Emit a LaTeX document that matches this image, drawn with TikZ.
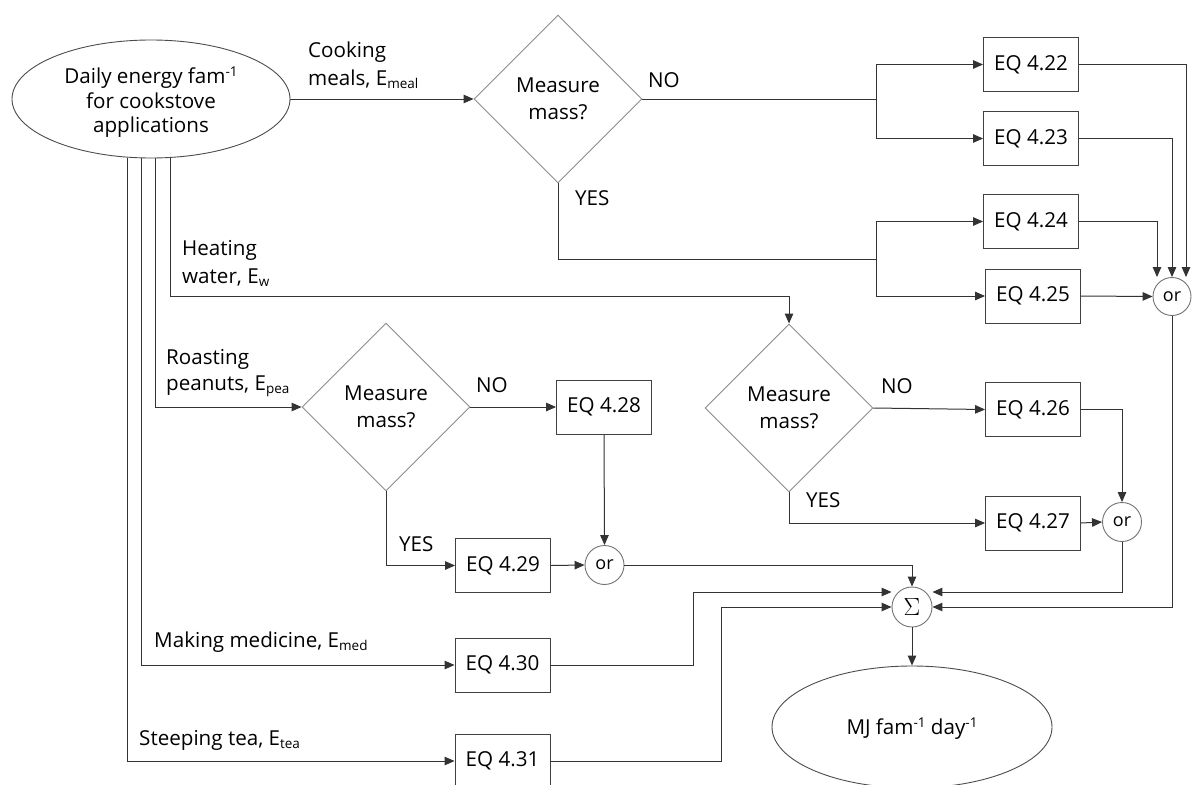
\documentclass[tikz,border=0pt]{standalone}
\usepackage{fontspec}
\setmainfont{Open Sans}
\usetikzlibrary{shapes.geometric,arrows.meta,calc}
\newcommand{\lowr}[1]{\raisebox{-3pt}{\fontsize{13.5}{13.5}\selectfont #1}}
\newcommand{\upr}[1]{\raisebox{7pt}{\fontsize{13.5}{13.5}\selectfont #1}}
\begin{document}
\begin{tikzpicture}[x=1pt,y=-1pt,
  every node/.style={font=\fontsize{20.6}{26}\selectfont},
  eqbox/.style={draw=black!75,line width=0.9pt,minimum width=95pt,minimum height=54pt,inner sep=0pt},
  decision/.style={diamond,draw=black!45,line width=0.9pt,minimum width=168pt,minimum height=168pt,inner sep=0pt,align=center,font=\fontsize{20.6}{27}\selectfont},
  orc/.style={circle,draw=black!55,line width=0.9pt,minimum size=38pt,inner sep=0pt,font=\fontsize{18}{20}\selectfont},
  ell/.style={ellipse,draw=black!70,line width=0.9pt,inner sep=0pt,align=center},
  lab/.style={anchor=base west,inner sep=0pt},
  conn/.style={draw=black!80,line width=1pt},
  arr/.style={conn,-{Triangle[length=10pt,width=8.5pt]}}]
\useasboundingbox (0,0) rectangle (1193,784);
\fill[white] (0,0) rectangle (1193,784);
% nodes
\node[ell,minimum width=278pt,minimum height=118pt] (start) at (151,99) {};
\node[align=center,inner sep=0pt,font=\fontsize{20.6}{24.5}\selectfont] (starttxt) at (151,102.5) {Daily energy fam\upr{-1}\\for cookstove\\applications};
\node[decision] (d1) at (558,99) {Measure\\mass?};
\node[eqbox] (eq22) at (1031,64.5) {EQ 4.22};
\node[eqbox] (eq23) at (1031,138.5) {EQ 4.23};
\node[eqbox] (eq24) at (1031,221.5) {EQ 4.24};
\node[eqbox] (eq25) at (1033,296) {EQ 4.25};
\node[orc] (or1) at (1172,296.5) {or};
\node[decision] (d2) at (789,408) {Measure\\mass?};
\node[eqbox] (eq26) at (1033,409.5) {EQ 4.26};
\node[eqbox] (eq27) at (1033,523) {EQ 4.27};
\node[orc,minimum size=39pt] (or3) at (1122,522) {or};
\node[decision] (d3) at (386,407) {Measure\\mass?};
\node[eqbox] (eq28) at (604,407) {EQ 4.28};
\node[eqbox] (eq29) at (503,565.5) {EQ 4.29};
\node[orc,minimum size=39pt] (or2) at (604.5,565) {or};
\node[eqbox] (eq30) at (502.5,665) {EQ 4.30};
\node[eqbox] (eq31) at (502.5,761) {EQ 4.31};
\node[orc,minimum size=40pt,font=\fontsize{25}{25}\selectfont] (sigma) at (912,607) {$\Sigma$};
\node[ell,minimum width=280pt,minimum height=122pt] (mj) at (912,727) {};
\node[inner sep=0pt] (mjtxt) at (912,729) {MJ fam\upr{-1} day\upr{-1}};
% labels
\node[lab] (l1a) at (308,58) {Cooking};
\node[lab] (l1b) at (308,85) {meals, E\lowr{meal}};
\node[lab] (l2a) at (182,255) {Heating};
\node[lab] (l2b) at (182,283) {water, E\lowr{w}};
\node[lab] (l3a) at (166,364) {Roasting};
\node[lab] (l3b) at (166,390) {peanuts, E\lowr{pea}};
\node[lab] (l4) at (154,647) {Making medicine, E\lowr{med}};
\node[lab] (l5) at (139,745) {Steeping tea, E\lowr{tea}};
\node[lab] (no1) at (648,87) {NO};
\node[lab] (yes1) at (575,205) {YES};
\node[lab] (no3) at (476,392) {NO};
\node[lab] (yes3) at (399,551) {YES};
\node[lab] (no2) at (881,393) {NO};
\node[lab] (yes2) at (806,507) {YES};
% coordinates
\coordinate (j1) at (876,99);
\coordinate (j2) at (876,259);
% connectors
\draw[arr] (start.east) -- (d1.west);
\draw[conn] (d1.east) -- (j1);
\draw[arr] (j1) |- (eq22.west);
\draw[arr] (j1) |- (eq23.west);
\draw[conn] (d1.south) |- (j2);
\draw[arr] (j2) |- (eq24.west);
\draw[arr] (j2) |- (eq25.west);
\draw[arr] (eq22.east) -| ([xshift=14pt]or1.north);
\draw[arr] (eq23.east) -| (or1.north);
\draw[arr] (eq24.east) -| ([xshift=-15pt]or1.north);
\draw[arr] (eq25.east) -- (or1.west);
\draw[arr] ([xshift=19pt]start.south) |- ([yshift=27pt]d2.north) -- (d2.north);
\draw[arr] ([xshift=4pt]start.south) |- (d3.west);
\draw[arr] ([xshift=-10pt]start.south) |- (eq30.west);
\draw[arr] ([xshift=-24pt]start.south) |- (eq31.west);
\draw[arr] (d3.east) -- (eq28.west);
\draw[arr] (eq28.south) -- (or2.north);
\draw[arr] (d3.south) |- (eq29.west);
\draw[arr] (eq29.east) -- (or2.west);
\draw[arr] (d2.east) -- (eq26.west);
\draw[arr] (eq26.east) -| (or3.north);
\draw[arr] (d2.south) |- (eq27.west);
\draw[arr] (eq27.east) -- (or3.west);
\draw[arr] (or2.east) -| (sigma.north);
\draw[arr] (eq30.east) -- ++(143,0) |- ([yshift=15pt]sigma.west);
\draw[arr] (eq31.east) -- ++(171,0) |- (sigma.west);
\draw[arr] (or3.south) |- ([yshift=15pt]sigma.east);
\draw[arr] (or1.south) |- (sigma.east);
\draw[arr] (sigma.south) -- (mj.north);
\end{tikzpicture}
\end{document}
